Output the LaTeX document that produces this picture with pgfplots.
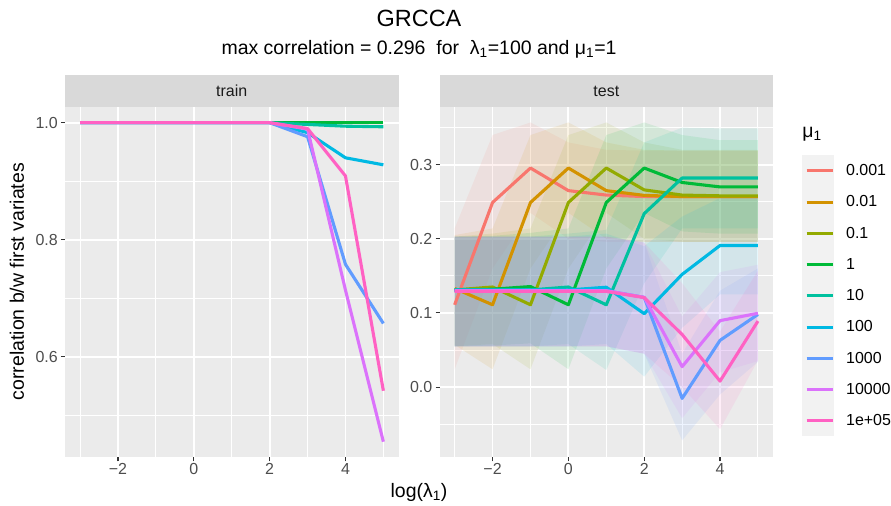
\documentclass[border=0pt]{standalone}
\usepackage{fontspec}
\setmainfont{Liberation Sans}
\usepackage{pgfplots}
\pgfplotsset{compat=1.18}
\usepgfplotslibrary{fillbetween}
\usepackage{pgfplotstable}

\definecolor{c1}{HTML}{F8766D}
\definecolor{c2}{HTML}{D39200}
\definecolor{c3}{HTML}{93AA00}
\definecolor{c4}{HTML}{00BA38}
\definecolor{c5}{HTML}{00C19F}
\definecolor{c6}{HTML}{00B9E3}
\definecolor{c7}{HTML}{619CFF}
\definecolor{c8}{HTML}{DB72FB}
\definecolor{c9}{HTML}{FF61C3}
\definecolor{panelbg}{HTML}{EBEBEB}
\definecolor{stripbg}{HTML}{D9D9D9}
\definecolor{keybg}{HTML}{F2F2F2}
\definecolor{gray20}{HTML}{333333}
\definecolor{gray30}{HTML}{4D4D4D}
\definecolor{gray10}{HTML}{1A1A1A}

\pgfplotstableread{
x  s1  s2  s3  s4  s5     s6     s7     s8     s9
-3 1.0 1.0 1.0 1.0 1.0    1.0    1.0    1.0    1.0
-2 1.0 1.0 1.0 1.0 1.0    1.0    1.0    1.0    1.0
-1 1.0 1.0 1.0 1.0 1.0    1.0    1.0    1.0    1.0
0  1.0 1.0 1.0 1.0 1.0    1.0    1.0    1.0    1.0
1  1.0 1.0 1.0 1.0 1.0    1.0    1.0    1.0    1.0
2  1.0 1.0 1.0 1.0 1.0    1.0    1.0    1.0    1.0
3  1.0 1.0 1.0 1.0 0.997  0.983  0.976  0.989  0.990
4  1.0 1.0 1.0 1.0 0.994  0.940  0.758  0.714  0.909
5  1.0 1.0 1.0 1.0 0.993  0.928  0.657  0.455  0.542
}\train

\pgfplotstableread{
x  y      lo     hi
-3 0.111  0.024  0.214
-2 0.249  0.160  0.340
-1 0.2955 0.235  0.357
0  0.265  0.200  0.330
1  0.259  0.196  0.320
2  0.257  0.196  0.319
3  0.257  0.196  0.319
4  0.257  0.196  0.319
5  0.257  0.196  0.319
}\tA
\pgfplotstableread{
x  y      lo     hi
-3 0.133  0.057  0.205
-2 0.111  0.024  0.214
-1 0.249  0.160  0.340
0  0.2955 0.235  0.357
1  0.265  0.200  0.330
2  0.2586 0.196  0.320
3  0.257  0.196  0.319
4  0.257  0.196  0.319
5  0.257  0.196  0.319
}\tB
\pgfplotstableread{
x  y      lo     hi
-3 0.131  0.055  0.203
-2 0.135  0.058  0.207
-1 0.111  0.024  0.214
0  0.249  0.160  0.340
1  0.2955 0.235  0.357
2  0.266  0.200  0.330
3  0.259  0.196  0.320
4  0.258  0.196  0.320
5  0.258  0.196  0.320
}\tC
\pgfplotstableread{
x  y      lo     hi
-3 0.131  0.055  0.203
-2 0.132  0.056  0.204
-1 0.1356 0.059  0.208
0  0.111  0.024  0.214
1  0.249  0.160  0.340
2  0.2955 0.235  0.357
3  0.276  0.210  0.340
4  0.270  0.207  0.333
5  0.270  0.207  0.333
}\tD
\pgfplotstableread{
x  y      lo     hi
-3 0.131  0.055  0.203
-2 0.131  0.055  0.203
-1 0.131  0.055  0.203
0  0.135  0.058  0.207
1  0.111  0.023  0.212
2  0.234  0.140  0.330
3  0.282  0.214  0.350
4  0.282  0.214  0.349
5  0.282  0.214  0.349
}\tE
\pgfplotstableread{
x  y      lo     hi
-3 0.131  0.055  0.203
-2 0.131  0.055  0.203
-1 0.131  0.055  0.203
0  0.131  0.055  0.203
1  0.1347 0.058  0.207
2  0.099  0.014  0.190
3  0.152  0.080  0.230
4  0.191  0.125  0.255
5  0.191  0.125  0.255
}\tF
\pgfplotstableread{
x  y       lo     hi
-3 0.130   0.055  0.203
-2 0.130   0.055  0.203
-1 0.130   0.055  0.203
0  0.130   0.055  0.203
1  0.130   0.055  0.203
2  0.121   0.045  0.195
3  -0.0153 -0.072 0.045
4  0.063   -0.010 0.130
5  0.098   0.034  0.160
}\tG
\pgfplotstableread{
x  y      lo     hi
-3 0.130  0.055  0.203
-2 0.130  0.055  0.203
-1 0.130  0.055  0.203
0  0.130  0.055  0.203
1  0.130  0.055  0.203
2  0.121  0.045  0.195
3  0.0275 -0.042 0.095
4  0.0896 0.020  0.155
5  0.0995 0.035  0.165
}\tH
\pgfplotstableread{
x  y      lo     hi
-3 0.129  0.055  0.203
-2 0.129  0.055  0.203
-1 0.129  0.055  0.203
0  0.129  0.055  0.203
1  0.129  0.055  0.203
2  0.1207 0.045  0.195
3  0.071  0.000  0.140
4  0.008  -0.057 0.075
5  0.089  0.036  0.157
}\tI

\pgfplotsset{
  panel/.style={
    scale only axis, width=334pt, height=351pt,
    xmin=-3.4, xmax=5.4,
    axis background/.style={fill=panelbg},
    axis line style={draw=none},
    grid=both,
    major grid style={white, line width=1.8pt},
    minor grid style={white, line width=0.9pt},
    tick align=outside, major tick length=4pt, minor tick length=0pt,
    tick style={gray20, line width=1.1pt},
    xtick pos=bottom, ytick pos=left,
    xtick={-2,0,2,4}, xticklabels={−2,0,2,4},
    minor xtick={-3,-1,1,3,5},
    ticklabel style={font=\fontsize{16}{19}\selectfont, text=gray30},
    xticklabel style={inner sep=2pt},
    yticklabel style={inner sep=3pt},
    /pgf/number format/assume math mode=true,
    yticklabel style={/pgf/number format/.cd, fixed, fixed zerofill, precision=1},
  },
  ln/.style={line width=3.1pt, line join=round, color=#1},
}

\newcommand{\ribbon}[3]{%
  \addplot[draw=none, name path=#1lo, forget plot] table[x=x, y=lo]{#2};
  \addplot[draw=none, name path=#1hi, forget plot] table[x=x, y=hi]{#2};
  \addplot[fill=#3, fill opacity=0.1, draw=none, forget plot] fill between[of=#1hi and #1lo];
}

\begin{document}
\begin{tikzpicture}
\path (0,0) rectangle (891pt,506pt);

% strips
\fill[stripbg] (65pt,399.3pt) rectangle (399pt,431pt);
\fill[stripbg] (440pt,399.3pt) rectangle (774pt,431pt);
\node[anchor=base, text=gray10, font=\fontsize{16}{19}\selectfont] at (232pt,409.3pt) {train};
\node[anchor=base, text=gray10, font=\fontsize{16}{19}\selectfont] at (607pt,409.3pt) {test};

% titles
\node[anchor=base, font=\fontsize{23.5}{28}\selectfont] at (419.5pt,479.3pt) {GRCCA};
\node[anchor=base, font=\fontsize{19.5}{23}\selectfont] at (419.5pt,451.5pt) {max correlation = 0.296\ \ for\ \ λ\textsubscript{1}=100 and μ\textsubscript{1}=1};
\node[anchor=base, font=\fontsize{19.5}{23}\selectfont] at (419.5pt,7.7pt) {log(λ\textsubscript{1})};
\node[anchor=base, rotate=90, font=\fontsize{19.5}{23}\selectfont] at (24pt,224pt) {correlation b/w first variates};

% legend key background and title
\fill[keybg] (803pt,69pt) rectangle (835pt,351pt);
\node[anchor=west, inner sep=0pt, font=\fontsize{19.5}{23}\selectfont] at (803pt,372pt) {μ\textsubscript{1}};

\begin{axis}[panel, at={(65pt,48pt)}, anchor=south west,
  ymin=0.428, ymax=1.027,
  ytick={0.6,0.8,1.0}, minor ytick={0.5,0.7,0.9}]
\addplot[ln=c1] table[x=x, y=s1]{\train};
\addplot[ln=c2] table[x=x, y=s2]{\train};
\addplot[ln=c3] table[x=x, y=s3]{\train};
\addplot[ln=c4] table[x=x, y=s4]{\train};
\addplot[ln=c5] table[x=x, y=s5]{\train};
\addplot[ln=c6] table[x=x, y=s6]{\train};
\addplot[ln=c7] table[x=x, y=s7]{\train};
\addplot[ln=c8] table[x=x, y=s8]{\train};
\addplot[ln=c9] table[x=x, y=s9]{\train};
\end{axis}

\begin{axis}[panel, at={(440pt,48pt)}, anchor=south west,
  ymin=-0.095, ymax=0.378,
  ytick={0,0.1,0.2,0.3}, minor ytick={-0.05,0.05,0.15,0.25,0.35},
  legend style={at={(1.0958,0.8623)}, anchor=north west, draw=none, fill=none,
    inner sep=0pt, outer sep=0pt, row sep=0pt, column sep=12pt,
    cells={anchor=west},
    nodes={inner sep=0pt, minimum height=31.3pt, font=\fontsize{16}{19}\selectfont}},
  legend image code/.code={\draw[#1, line cap=butt] (0pt,0pt) -- (26pt,0pt);},
  ]
\ribbon{a}{\tA}{c1}
\ribbon{b}{\tB}{c2}
\ribbon{c}{\tC}{c3}
\ribbon{d}{\tD}{c4}
\ribbon{e}{\tE}{c5}
\ribbon{f}{\tF}{c6}
\ribbon{g}{\tG}{c7}
\ribbon{h}{\tH}{c8}
\ribbon{i}{\tI}{c9}
\addplot[ln=c1] table[x=x, y=y]{\tA}; \addlegendentry{0.001}
\addplot[ln=c2] table[x=x, y=y]{\tB}; \addlegendentry{0.01}
\addplot[ln=c3] table[x=x, y=y]{\tC}; \addlegendentry{0.1}
\addplot[ln=c4] table[x=x, y=y]{\tD}; \addlegendentry{1}
\addplot[ln=c5] table[x=x, y=y]{\tE}; \addlegendentry{10}
\addplot[ln=c6] table[x=x, y=y]{\tF}; \addlegendentry{100}
\addplot[ln=c7] table[x=x, y=y]{\tG}; \addlegendentry{1000}
\addplot[ln=c8] table[x=x, y=y]{\tH}; \addlegendentry{10000}
\addplot[ln=c9] table[x=x, y=y]{\tI}; \addlegendentry{1e+05}
\end{axis}
\end{tikzpicture}
\end{document}
